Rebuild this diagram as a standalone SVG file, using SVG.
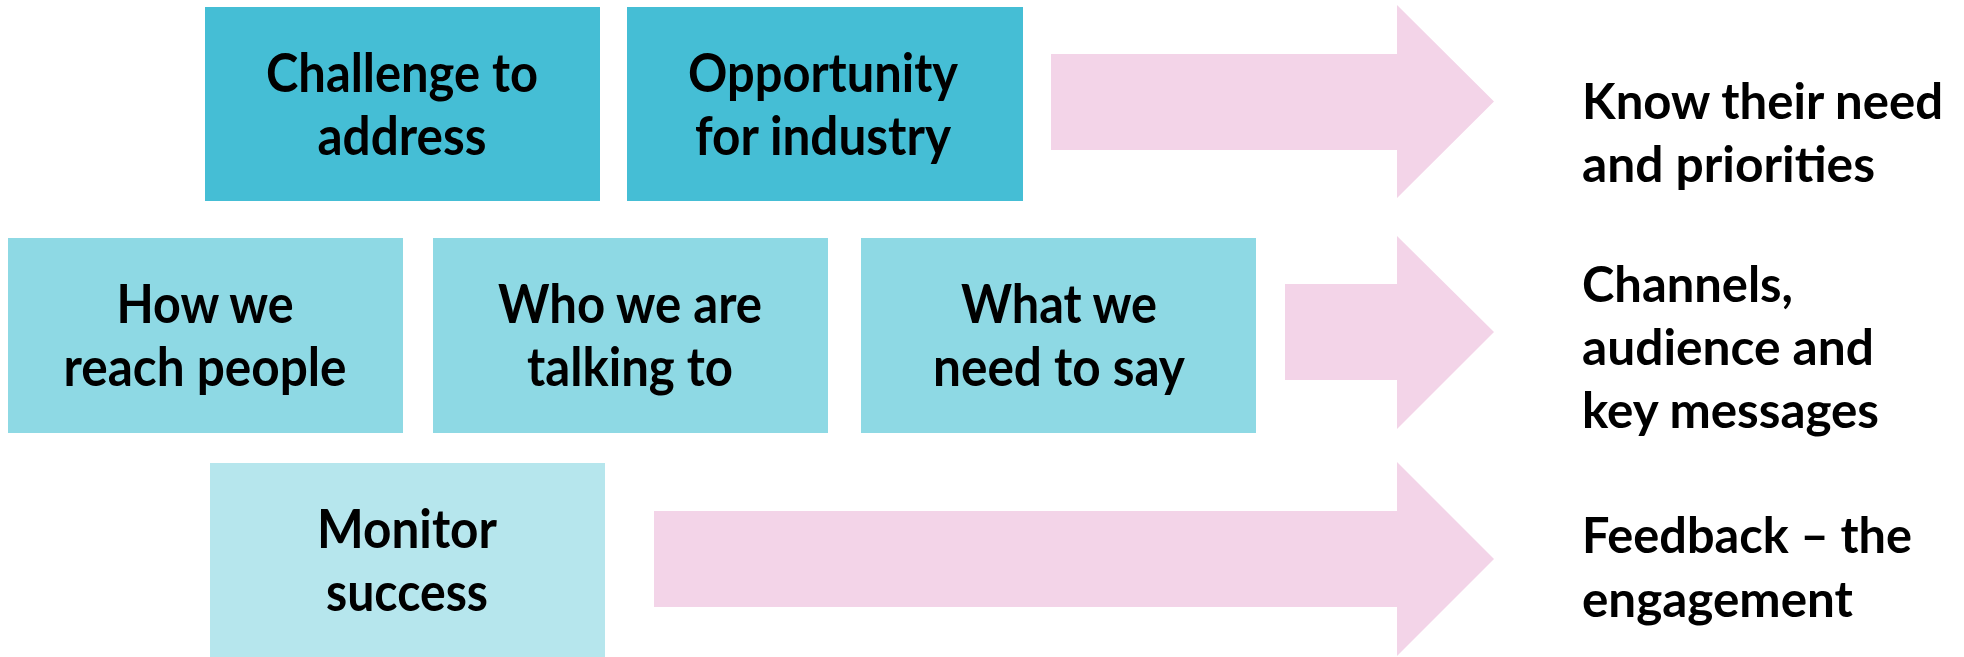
<svg xmlns="http://www.w3.org/2000/svg" width="1964" height="657" viewBox="0 0 1964 657">
  <style>
    .box1 { fill: #45BED5; }
    .box2 { fill: #8ED9E4; }
    .box3 { fill: #B6E6ED; }
    .arrow { fill: #F3D4E8; }
    text { font-family: Lato, "Open Sans", "Liberation Sans", sans-serif; font-weight: 700; font-size: 53px; fill: #000; }
    .c { text-anchor: middle; }
    .out { font-size: 50px; }
  </style>
  <rect width="1964" height="657" fill="#FFFFFF"/>

  <!-- block arrows -->
  <g id="connectors">
    <polygon class="arrow" points="1051,54 1397,54 1397,5 1494,101.5 1397,198 1397,150 1051,150"/>
    <polygon class="arrow" points="1285,284 1397,284 1397,236 1494,332 1397,429 1397,380 1285,380"/>
    <polygon class="arrow" points="654,511 1397,511 1397,462 1494,559 1397,656 1397,607 654,607"/>
  </g>

  <!-- top row -->
  <g id="challenge">
    <rect class="box1" x="205" y="7" width="395" height="194"/>
    <text class="c" x="402" y="92" textLength="272" lengthAdjust="spacingAndGlyphs">Challenge to</text>
    <text class="c" x="402" y="155" textLength="169" lengthAdjust="spacingAndGlyphs">address</text>
  </g>
  <g id="opportunity">
    <rect class="box1" x="627" y="7" width="396" height="194"/>
    <text class="c" x="823" y="92" textLength="270" lengthAdjust="spacingAndGlyphs">Opportunity</text>
    <text class="c" x="823" y="155" textLength="256" lengthAdjust="spacingAndGlyphs">for industry</text>
  </g>

  <!-- middle row -->
  <g id="how">
    <rect class="box2" x="8" y="238" width="395" height="195"/>
    <text class="c" x="205" y="323" textLength="177" lengthAdjust="spacingAndGlyphs">How we</text>
    <text class="c" x="205" y="386" textLength="283" lengthAdjust="spacingAndGlyphs">reach people</text>
  </g>
  <g id="who">
    <rect class="box2" x="433" y="238" width="395" height="195"/>
    <text class="c" x="630" y="323" textLength="264" lengthAdjust="spacingAndGlyphs">Who we are</text>
    <text class="c" x="630" y="386" textLength="206" lengthAdjust="spacingAndGlyphs">talking to</text>
  </g>
  <g id="what">
    <rect class="box2" x="861" y="238" width="395" height="195"/>
    <text class="c" x="1059" y="323" textLength="196" lengthAdjust="spacingAndGlyphs">What we</text>
    <text class="c" x="1059" y="386" textLength="252" lengthAdjust="spacingAndGlyphs">need to say</text>
  </g>

  <!-- bottom row -->
  <g id="monitor">
    <rect class="box3" x="210" y="463" width="395" height="194"/>
    <text class="c" x="407" y="548" textLength="180" lengthAdjust="spacingAndGlyphs">Monitor</text>
    <text class="c" x="407" y="611" textLength="162" lengthAdjust="spacingAndGlyphs">success</text>
  </g>

  <!-- outcomes -->
  <g id="know">
    <text class="out" x="1582" y="119" textLength="361" lengthAdjust="spacingAndGlyphs">Know their need</text>
    <text class="out" x="1582" y="182" textLength="293" lengthAdjust="spacingAndGlyphs">and priorities</text>
  </g>
  <g id="channels">
    <text class="out" x="1582" y="302" textLength="211" lengthAdjust="spacingAndGlyphs">Channels,</text>
    <text class="out" x="1582" y="365" textLength="292" lengthAdjust="spacingAndGlyphs">audience and</text>
    <text class="out" x="1582" y="428" textLength="297" lengthAdjust="spacingAndGlyphs">key messages</text>
  </g>
  <g id="feedback">
    <text class="out" x="1582" y="553" textLength="330" lengthAdjust="spacingAndGlyphs">Feedback – the</text>
    <text class="out" x="1582" y="617" textLength="271" lengthAdjust="spacingAndGlyphs">engagement</text>
  </g>
</svg>
